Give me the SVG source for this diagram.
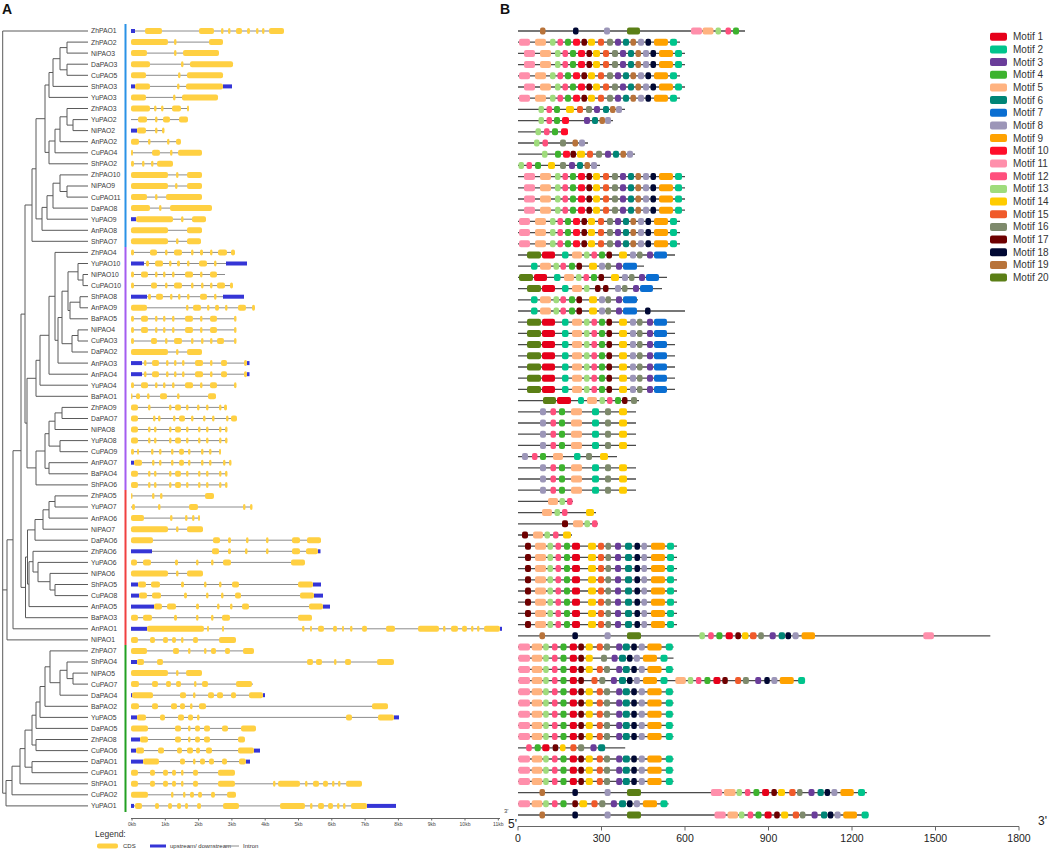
<svg xmlns="http://www.w3.org/2000/svg" xmlns:xlink="http://www.w3.org/1999/xlink" width="1052" height="851" viewBox="0 0 1052 851">
<style>
text{font-family:"Liberation Sans",Arial,sans-serif}
.lb{font-size:6.8px;fill:#3a3a3a}
.br{stroke:#5a5a5a;stroke-width:1;fill:none}
.gs rect{y:-3px;height:6px;rx:2px;fill:#ffd042}
.gs rect.u{y:-2px;height:4px;rx:0;fill:#3535d6}
.gs path{stroke:#8c8c8c;stroke-width:1;fill:none}
.mb rect{y:-3.5px;height:7px;rx:2px}
.mb path{stroke:#4a4a4a;stroke-width:1.3;fill:none}
.m1{fill:#e6001a}.m2{fill:#00c48c}.m3{fill:#6a3d9a}.m4{fill:#3db32e}.m5{fill:#ffb380}
.m6{fill:#008577}.m7{fill:#0a6ed1}.m8{fill:#9c96b8}.m9{fill:#ffa200}.m10{fill:#ff0d2a}
.m11{fill:#ff8fab}.m12{fill:#ff4f7d}.m13{fill:#9fdc7c}.m14{fill:#ffcc00}.m15{fill:#f05a2a}
.m16{fill:#7e8a6c}.m17{fill:#6e0000}.m18{fill:#000833}.m19{fill:#b8733a}.m20{fill:#5b7f16}
.ax{stroke:#666;stroke-width:1;fill:none}
.kb{font-size:5px;fill:#444;text-anchor:middle}
.bt{font-size:10.5px;fill:#222;text-anchor:middle}
.lg{font-size:10px;fill:#333}
</style>
<defs>
<g id="PB" class="mb">
<rect class="m11" x="519" width="11"/><rect class="m5" x="535" width="11"/><rect class="m13" x="550" width="5.5"/><rect class="m12" x="557.5" width="5.5"/><rect class="m4" x="565" width="6"/><rect class="m10" x="573" width="7"/><rect class="m17" x="581.5" width="5.5"/><rect class="m14" x="588" width="7"/><rect class="m15" x="598" width="6"/><rect class="m16" x="607" width="6"/><rect class="m3" x="615" width="6"/><rect class="m6" x="623" width="6"/><rect class="m19" x="630.5" width="5.5"/><rect class="m8" x="638" width="6"/><rect class="m18" x="645.5" width="5.5"/><rect class="m9" x="654" width="14"/><rect class="m2" x="670" width="7"/>
</g>
<g id="PP" class="mb">
<rect class="m20" x="527" width="14"/><rect class="m1" x="542" width="13"/><rect class="m2" x="562" width="6.5"/><rect class="m5" x="572" width="10"/><rect class="m13" x="584" width="5.5"/><rect class="m12" x="591.5" width="5.5"/><rect class="m4" x="599" width="6"/><rect class="m17" x="606.5" width="5.5"/><rect class="m14" x="619" width="8"/><rect class="m8" x="630" width="6"/><rect class="m16" x="637" width="5.5"/><rect class="m3" x="647" width="6"/><rect class="m7" x="654" width="13"/>
</g>
<g id="PS" class="mb">
<rect class="m2" x="531" width="6.5"/><rect class="m5" x="540" width="11"/><rect class="m13" x="553.5" width="5.5"/><rect class="m12" x="560.5" width="5.5"/><rect class="m4" x="569" width="6"/><rect class="m17" x="576.5" width="5.5"/><rect class="m14" x="589" width="8"/><rect class="m8" x="599" width="6"/><rect class="m16" x="605.5" width="5.5"/><rect class="m3" x="616" width="6"/><rect class="m7" x="623" width="14"/>
</g>
<g id="PL" class="mb">
<path d="M518 0H636"/><rect class="m8" x="540" width="6"/><rect class="m12" x="550.5" width="5.5"/><rect class="m4" x="559" width="6"/><rect class="m5" x="571" width="11"/><rect class="m2" x="592" width="7"/><rect class="m16" x="605" width="6"/><rect class="m14" x="619" width="8"/>
</g>
<g id="PR" class="mb">
<path d="M518 0H677"/><rect class="m17" x="525" width="6"/><rect class="m5" x="535" width="11"/><rect class="m13" x="547.5" width="5.5"/><rect class="m12" x="555.5" width="5.5"/><rect class="m4" x="564" width="6"/><rect class="m1" x="572" width="8"/><rect class="m14" x="588" width="8"/><rect class="m15" x="598" width="6"/><rect class="m16" x="605.5" width="5.5"/><rect class="m3" x="615" width="6"/><rect class="m6" x="625" width="7"/><rect class="m18" x="634.5" width="5.5"/><rect class="m8" x="641.5" width="5.5"/><rect class="m9" x="651" width="14"/><rect class="m2" x="667" width="7"/>
</g>
<g id="PG" class="mb">
<path d="M518 0H673.5"/><rect class="m11" x="518.3" width="11.7"/><rect class="m5" x="531.7" width="10.6"/><rect class="m13" x="543.2" width="5.5"/><rect class="m12" x="552" width="5.5"/><rect class="m4" x="560.5" width="6"/><rect class="m1" x="569.8" width="7.1"/><rect class="m17" x="578.4" width="5.5"/><rect class="m14" x="585.7" width="7.1"/><rect class="m15" x="596.8" width="6"/><rect class="m16" x="604" width="6"/><rect class="m3" x="616.2" width="6"/><rect class="m6" x="622.8" width="7"/><rect class="m18" x="631.3" width="5.5"/><rect class="m8" x="638.8" width="6"/><rect class="m9" x="647.4" width="14.2"/><rect class="m2" x="665.8" width="7"/>
</g>
</defs>
<rect width="1052" height="851" fill="#fff"/>
<text x="2" y="14" font-size="14" font-weight="bold" fill="#111">A</text>
<text x="500" y="14" font-size="14" font-weight="bold" fill="#111">B</text>

<g id="tree" class="br">
<path d="M88 31H2.7V793.2H6M7 589.9H2.7"/>
<path d="M88 42.1H67V53.1H88M88 64.2H67V75.3H88M67 47.6H60V69.8H67M60 58.7H53V86.4H88M53 72.5H49V97.4H88"/>
<path d="M88 119.6H73V130.6H88M88 108.5H67V125.1H73M67 116.8H60V141.7H88M60 129.2H55V152.8H88M55 141H49V163.8H88M49 85H45V152.4H49"/>
<path d="M88 186H67V197.1H88M88 174.9H60V191.5H67M60 183.2H53V208.1H88M53 195.7H47V219.2H88M47 207.4H42V230.3H88M45 118.7H36V218.9H42M36 168.8H32V241.3H88"/>
<path d="M88 274.5H83V285.6H88M88 263.5H78V280H83M88 296.7H80V307.8H88M80 302.2H70V318.8H88M78 271.8H68V310.5H70M88 329.9H78V341H88M78 335.5H72V352H88M68 291.2H62V343.7H72M62 317.5H58V363.1H88M88 252.4H55V340.3H58M55 296.3H49V374.2H88M49 335.3H40V385.2H88M40 360.3H36V396.3H88"/>
<path d="M88 407.4H62V418.5H88M62 412.9H55V429.5H88M88 440.6H60V451.7H88M55 421.2H49V446.1H60M88 462.7H49V473.8H88M49 433.7H45V468.3H49M45 451H36V484.9H88M36 378.3H27V467.9H36M32 205H25V423.1H27"/>
<path d="M88 495.9H55V507H88M55 501.5H49V518.1H88M49 509.8H43V529.2H88M43 519.5H35V540.2H88M88 584.5H55V595.6H88M88 573.4H50V590H55M88 562.4H38V581.7H50M88 551.3H33V572H38M33 561.7H29V606.6H88M35 529.9H27.5V584.1H29M27.5 557H25.5V617.7H88M25 314.1H21V587.4H25.5M21 450.7H13V628.8H88M13 539.8H7V639.9H88"/>
<path d="M88 673.1H73V684.1H88M88 662H67V678.6H73M67 670.3H60V695.2H88M88 650.9H50V682.7H60M50 666.8H45V706.3H88M45 686.5H40V717.4H88M40 702H36V728.4H88M88 739.5H36V750.6H88M36 715.2H32V745H36M88 761.6H32V772.7H88M32 730.1H25V767.2H32M25 748.6H20V783.8H88M20 766.2H12V794.8H88M12 780.5H6V805.9H88"/>
</g>

<g id="clades">
<rect x="124.5" y="24" width="2" height="223" fill="#2a92e6"/>
<rect x="124.5" y="247" width="2" height="243" fill="#a35df0"/>
<rect x="124.5" y="490" width="2" height="155" fill="#f04040"/>
<rect x="124.5" y="645" width="2" height="167" fill="#22a022"/>
</g>

<g id="genes">
<g id="ZhPAO1" class="gs" transform="translate(0,31)"><text class="lb" x="91" y="2.4">ZhPAO1</text><path d="M131 0H284"/><rect class="u" x="131" width="4"/><rect x="145" width="17"/><rect x="199" width="15"/><rect x="221" width="2.5"/><rect x="228" width="2.5"/><rect x="236" width="6"/><rect x="247" width="3"/><rect x="256" width="2.5"/><rect x="262" width="2.5"/><rect x="269" width="15"/></g>
<g id="ZhPAO2" class="gs" transform="translate(0,42.1)"><text class="lb" x="91" y="2.4">ZhPAO2</text><path d="M131 0H223"/><rect x="131" width="37"/><rect x="174" width="2.5"/><rect x="209" width="14"/></g>
<g id="NiPAO3" class="gs" transform="translate(0,53.1)"><text class="lb" x="91" y="2.4">NiPAO3</text><path d="M131 0H219"/><rect x="131" width="16"/><rect x="174" width="2.5"/><rect x="183" width="36"/></g>
<g id="DaPAO3" class="gs" transform="translate(0,64.2)"><text class="lb" x="91" y="2.4">DaPAO3</text><path d="M131 0H233"/><rect x="131" width="19"/><rect x="181" width="2.5"/><rect x="190" width="43"/></g>
<g id="CuPAO5" class="gs" transform="translate(0,75.3)"><text class="lb" x="91" y="2.4">CuPAO5</text><path d="M131 0H223"/><rect x="131" width="15"/><rect x="178" width="2.5"/><rect x="187" width="36"/></g>
<g id="ShPAO3" class="gs" transform="translate(0,86.4)"><text class="lb" x="91" y="2.4">ShPAO3</text><path d="M131 0H232"/><rect class="u" x="131" width="4"/><rect x="135" width="15"/><rect x="177" width="2.5"/><rect x="186" width="37"/><rect class="u" x="223" width="9"/></g>
<g id="YuPAO3" class="gs" transform="translate(0,97.4)"><text class="lb" x="91" y="2.4">YuPAO3</text><path d="M131 0H218"/><rect x="131" width="15"/><rect x="173" width="2.5"/><rect x="182" width="36"/></g>
<g id="ZhPAO3" class="gs" transform="translate(0,108.5)"><text class="lb" x="91" y="2.4">ZhPAO3</text><path d="M131 0H189"/><rect x="131" width="19"/><rect x="154" width="2.5"/><rect x="161" width="2.5"/><rect x="172" width="9"/><rect x="187" width="2"/></g>
<g id="YuPAO2" class="gs" transform="translate(0,119.6)"><text class="lb" x="91" y="2.4">YuPAO2</text><path d="M131 0H188"/><rect x="138" width="9"/><rect x="155" width="2.5"/><rect x="163" width="7"/><rect x="179" width="9"/></g>
<g id="NiPAO2" class="gs" transform="translate(0,130.6)"><text class="lb" x="91" y="2.4">NiPAO2</text><path d="M131 0H164"/><rect class="u" x="131" width="6"/><rect x="137" width="9"/><rect x="155" width="2.5"/><rect x="162" width="2.5"/></g>
<g id="AnPAO2" class="gs" transform="translate(0,141.7)"><text class="lb" x="91" y="2.4">AnPAO2</text><path d="M131 0H181"/><rect x="131" width="8"/><rect x="148" width="2.5"/><rect x="167" width="2.5"/><rect x="176" width="5"/></g>
<g id="CuPAO4" class="gs" transform="translate(0,152.8)"><text class="lb" x="91" y="2.4">CuPAO4</text><path d="M131 0H202"/><rect x="131" width="2"/><rect x="152" width="8"/><rect x="170" width="2.5"/><rect x="178" width="24"/></g>
<g id="ShPAO2" class="gs" transform="translate(0,163.8)"><text class="lb" x="91" y="2.4">ShPAO2</text><path d="M131 0H173"/><rect x="131" width="3"/><rect x="142" width="2.5"/><rect x="151" width="2.5"/><rect x="157" width="16"/></g>
<g id="ZhPAO10" class="gs" transform="translate(0,174.9)"><text class="lb" x="91" y="2.4">ZhPAO10</text><path d="M131 0H202"/><rect x="131" width="37"/><rect x="176" width="2.5"/><rect x="187" width="15"/></g>
<g id="NiPAO9" class="gs" transform="translate(0,186)"><text class="lb" x="91" y="2.4">NiPAO9</text><path d="M131 0H202"/><rect x="131" width="37"/><rect x="175" width="2.5"/><rect x="187" width="15"/></g>
<g id="CuPAO11" class="gs" transform="translate(0,197.1)"><text class="lb" x="91" y="2.4">CuPAO11</text><path d="M131 0H202"/><rect x="131" width="16"/><rect x="155" width="2.5"/><rect x="166" width="36"/></g>
<g id="DaPAO8" class="gs" transform="translate(0,208.1)"><text class="lb" x="91" y="2.4">DaPAO8</text><path d="M131 0H212"/><rect x="131" width="19"/><rect x="159" width="2.5"/><rect x="170" width="42"/></g>
<g id="YuPAO9" class="gs" transform="translate(0,219.2)"><text class="lb" x="91" y="2.4">YuPAO9</text><path d="M131 0H206"/><rect class="u" x="131" width="5"/><rect x="136" width="37"/><rect x="181" width="2.5"/><rect x="192" width="14"/></g>
<g id="AnPAO8" class="gs" transform="translate(0,230.3)"><text class="lb" x="91" y="2.4">AnPAO8</text><path d="M131 0H202"/><rect x="131" width="37"/><rect x="187" width="15"/></g>
<g id="ShPAO7" class="gs" transform="translate(0,241.3)"><text class="lb" x="91" y="2.4">ShPAO7</text><path d="M131 0H201"/><rect x="131" width="37"/><rect x="176" width="2.5"/><rect x="187" width="14"/></g>
<g id="ZhPAO4" class="gs" transform="translate(0,252.4)"><text class="lb" x="91" y="2.4">ZhPAO4</text><path d="M131 0H235"/><rect x="131" width="3"/><rect x="150" width="7"/><rect x="165" width="2.5"/><rect x="174" width="8"/><rect x="191" width="2.5"/><rect x="200" width="3"/><rect x="210" width="2.5"/><rect x="218" width="9"/><rect x="231" width="4"/></g>
<g id="YuPAO10" class="gs" transform="translate(0,263.5)"><text class="lb" x="91" y="2.4">YuPAO10</text><path d="M131 0H247"/><rect class="u" x="131" width="13"/><rect x="146" width="3"/><rect x="155" width="8"/><rect x="169" width="2.5"/><rect x="177" width="3"/><rect x="187" width="2.5"/><rect x="199" width="8"/><rect x="214" width="2.5"/><rect class="u" x="226" width="21"/></g>
<g id="NiPAO10" class="gs" transform="translate(0,274.5)"><text class="lb" x="91" y="2.4">NiPAO10</text><path d="M131 0H225"/><rect x="131" width="3"/><rect x="141" width="7"/><rect x="155" width="2.5"/><rect x="163" width="2.5"/><rect x="172" width="2.5"/><rect x="185" width="8"/><rect x="200" width="2.5"/><rect x="210" width="7"/></g>
<g id="CuPAO10" class="gs" transform="translate(0,285.6)"><text class="lb" x="91" y="2.4">CuPAO10</text><path d="M131 0H233"/><rect x="131" width="3"/><rect x="151" width="6"/><rect x="165" width="2.5"/><rect x="174" width="8"/><rect x="191" width="2.5"/><rect x="201" width="2.5"/><rect x="210" width="2.5"/><rect x="217" width="8"/><rect x="230" width="3"/></g>
<g id="ShPAO8" class="gs" transform="translate(0,296.7)"><text class="lb" x="91" y="2.4">ShPAO8</text><path d="M131 0H244"/><rect class="u" x="131" width="16"/><rect x="148" width="3"/><rect x="156" width="7"/><rect x="170" width="2.5"/><rect x="178" width="2.5"/><rect x="187" width="2.5"/><rect x="200" width="7"/><rect x="214" width="2.5"/><rect class="u" x="223" width="21"/></g>
<g id="AnPAO9" class="gs" transform="translate(0,307.8)"><text class="lb" x="91" y="2.4">AnPAO9</text><path d="M131 0H255"/><rect x="131" width="16"/><rect x="186" width="2.5"/><rect x="193" width="8"/><rect x="207" width="2.5"/><rect x="215" width="4"/><rect x="225" width="2.5"/><rect x="238" width="8"/><rect x="252" width="3"/></g>
<g id="BaPAO5" class="gs" transform="translate(0,318.8)"><text class="lb" x="91" y="2.4">BaPAO5</text><path d="M131 0H236"/><rect x="131" width="3"/><rect x="141" width="7"/><rect x="155" width="2.5"/><rect x="163" width="2.5"/><rect x="172" width="2.5"/><rect x="185" width="8"/><rect x="200" width="2.5"/><rect x="210" width="7"/><rect x="234" width="2.5"/></g>
<g id="NiPAO4" class="gs" transform="translate(0,329.9)"><text class="lb" x="91" y="2.4">NiPAO4</text><path d="M131 0H236"/><rect x="131" width="3"/><rect x="141" width="7"/><rect x="155" width="2.5"/><rect x="163" width="2.5"/><rect x="172" width="2.5"/><rect x="185" width="8"/><rect x="200" width="2.5"/><rect x="210" width="7"/><rect x="234" width="2.5"/></g>
<g id="CuPAO3" class="gs" transform="translate(0,341)"><text class="lb" x="91" y="2.4">CuPAO3</text><path d="M131 0H236"/><rect x="131" width="3"/><rect x="151" width="6"/><rect x="165" width="2.5"/><rect x="174" width="8"/><rect x="191" width="2.5"/><rect x="201" width="2.5"/><rect x="210" width="2.5"/><rect x="217" width="7"/><rect x="234" width="2.5"/></g>
<g id="DaPAO2" class="gs" transform="translate(0,352)"><text class="lb" x="91" y="2.4">DaPAO2</text><path d="M131 0H202"/><rect x="131" width="37"/><rect x="176" width="2.5"/><rect x="187" width="15"/></g>
<g id="AnPAO3" class="gs" transform="translate(0,363.1)"><text class="lb" x="91" y="2.4">AnPAO3</text><path d="M131 0H249"/><rect class="u" x="131" width="11"/><rect x="144" width="2.5"/><rect x="152" width="7"/><rect x="166" width="2.5"/><rect x="174" width="2.5"/><rect x="182" width="2.5"/><rect x="195" width="8"/><rect x="210" width="2.5"/><rect x="221" width="6"/><rect x="244" width="3"/><rect class="u" x="247" width="2.5"/></g>
<g id="AnPAO4" class="gs" transform="translate(0,374.2)"><text class="lb" x="91" y="2.4">AnPAO4</text><path d="M131 0H249"/><rect class="u" x="131" width="11"/><rect x="144" width="2.5"/><rect x="152" width="7"/><rect x="166" width="2.5"/><rect x="174" width="2.5"/><rect x="182" width="2.5"/><rect x="195" width="8"/><rect x="210" width="2.5"/><rect x="221" width="6"/><rect x="244" width="3"/><rect class="u" x="247" width="2.5"/></g>
<g id="YuPAO4" class="gs" transform="translate(0,385.2)"><text class="lb" x="91" y="2.4">YuPAO4</text><path d="M131 0H236"/><rect x="131" width="3"/><rect x="141" width="7"/><rect x="155" width="2.5"/><rect x="163" width="2.5"/><rect x="172" width="2.5"/><rect x="185" width="8"/><rect x="200" width="2.5"/><rect x="210" width="7"/><rect x="234" width="2.5"/></g>
<g id="BaPAO1" class="gs" transform="translate(0,396.3)"><text class="lb" x="91" y="2.4">BaPAO1</text><path d="M131 0H216"/><rect x="131" width="1.5"/><rect x="136" width="4"/><rect x="147" width="2.5"/><rect x="160" width="7"/><rect x="177" width="2.5"/><rect x="208" width="8"/></g>
<g id="ZhPAO9" class="gs" transform="translate(0,407.4)"><text class="lb" x="91" y="2.4">ZhPAO9</text><path d="M131 0H227"/><rect x="131" width="7"/><rect x="148" width="2.5"/><rect x="169" width="2.5"/><rect x="175" width="6"/><rect x="186" width="2.5"/><rect x="197" width="2.5"/><rect x="206" width="2.5"/><rect x="219" width="2.5"/><rect x="224" width="3"/></g>
<g id="DaPAO7" class="gs" transform="translate(0,418.5)"><text class="lb" x="91" y="2.4">DaPAO7</text><path d="M131 0H237"/><rect x="131" width="7"/><rect x="153" width="2.5"/><rect x="158" width="2.5"/><rect x="173" width="2.5"/><rect x="179" width="6"/><rect x="191" width="2.5"/><rect x="203" width="2.5"/><rect x="212" width="2.5"/><rect x="226" width="2.5"/><rect x="231" width="6"/></g>
<g id="NiPAO8" class="gs" transform="translate(0,429.5)"><text class="lb" x="91" y="2.4">NiPAO8</text><path d="M131 0H227"/><rect x="131" width="7"/><rect x="148" width="2.5"/><rect x="154" width="2.5"/><rect x="169" width="2.5"/><rect x="175" width="6"/><rect x="186" width="2.5"/><rect x="198" width="2.5"/><rect x="206" width="2.5"/><rect x="219" width="2.5"/><rect x="225" width="2.5"/></g>
<g id="YuPAO8" class="gs" transform="translate(0,440.6)"><text class="lb" x="91" y="2.4">YuPAO8</text><path d="M131 0H227"/><rect x="131" width="7"/><rect x="148" width="2.5"/><rect x="154" width="2.5"/><rect x="169" width="2.5"/><rect x="175" width="6"/><rect x="186" width="2.5"/><rect x="198" width="2.5"/><rect x="206" width="2.5"/><rect x="219" width="2.5"/><rect x="225" width="2.5"/></g>
<g id="CuPAO9" class="gs" transform="translate(0,451.7)"><text class="lb" x="91" y="2.4">CuPAO9</text><path d="M131 0H221"/><rect x="131" width="3"/><rect x="137" width="2"/><rect x="151" width="2.5"/><rect x="159" width="2.5"/><rect x="171" width="2.5"/><rect x="179" width="5"/><rect x="188" width="2.5"/><rect x="201" width="2.5"/><rect x="209" width="2.5"/><rect x="219" width="2"/></g>
<g id="AnPAO7" class="gs" transform="translate(0,462.7)"><text class="lb" x="91" y="2.4">AnPAO7</text><path d="M131 0H231"/><rect class="u" x="131" width="3"/><rect x="134" width="8"/><rect x="152" width="2.5"/><rect x="159" width="2.5"/><rect x="171" width="2.5"/><rect x="179" width="5"/><rect x="188" width="2.5"/><rect x="201" width="2.5"/><rect x="209" width="2.5"/><rect x="223" width="2.5"/><rect x="229" width="2.5"/></g>
<g id="BaPAO4" class="gs" transform="translate(0,473.8)"><text class="lb" x="91" y="2.4">BaPAO4</text><path d="M131 0H227"/><rect x="131" width="7"/><rect x="148" width="2.5"/><rect x="154" width="2.5"/><rect x="169" width="2.5"/><rect x="175" width="6"/><rect x="186" width="2.5"/><rect x="198" width="2.5"/><rect x="206" width="2.5"/><rect x="219" width="2.5"/><rect x="225" width="2.5"/></g>
<g id="ShPAO6" class="gs" transform="translate(0,484.9)"><text class="lb" x="91" y="2.4">ShPAO6</text><path d="M131 0H227"/><rect x="131" width="7"/><rect x="148" width="2.5"/><rect x="154" width="2.5"/><rect x="169" width="2.5"/><rect x="175" width="6"/><rect x="186" width="2.5"/><rect x="198" width="2.5"/><rect x="206" width="2.5"/><rect x="219" width="2.5"/><rect x="225" width="2.5"/></g>
<g id="ZhPAO5" class="gs" transform="translate(0,495.9)"><text class="lb" x="91" y="2.4">ZhPAO5</text><path d="M131 0H214"/><rect x="131" width="1.5"/><rect x="152" width="2.5"/><rect x="160" width="2.5"/><rect x="205" width="9"/></g>
<g id="YuPAO7" class="gs" transform="translate(0,507)"><text class="lb" x="91" y="2.4">YuPAO7</text><path d="M131 0H252"/><rect x="132" width="3"/><rect x="158" width="2.5"/><rect x="189" width="9"/><rect x="243" width="2.5"/><rect x="250" width="2.5"/></g>
<g id="AnPAO6" class="gs" transform="translate(0,518.1)"><text class="lb" x="91" y="2.4">AnPAO6</text><path d="M131 0H200"/><rect x="131" width="13"/><rect x="170" width="2.5"/><rect x="185" width="2.5"/><rect x="192" width="2.5"/><rect x="198" width="2"/></g>
<g id="NiPAO7" class="gs" transform="translate(0,529.2)"><text class="lb" x="91" y="2.4">NiPAO7</text><path d="M131 0H203"/><rect x="131" width="37"/><rect x="176" width="2.5"/><rect x="187" width="16"/></g>
<g id="DaPAO6" class="gs" transform="translate(0,540.2)"><text class="lb" x="91" y="2.4">DaPAO6</text><path d="M131 0H321"/><rect x="131" width="22"/><rect x="213" width="7"/><rect x="228" width="3"/><rect x="246" width="2.5"/><rect x="266" width="2.5"/><rect x="292" width="8"/><rect x="307" width="14"/></g>
<g id="ZhPAO6" class="gs" transform="translate(0,551.3)"><text class="lb" x="91" y="2.4">ZhPAO6</text><path d="M131 0H320"/><rect class="u" x="131" width="21"/><rect x="212" width="7"/><rect x="228" width="3"/><rect x="245" width="2.5"/><rect x="266" width="2.5"/><rect x="292" width="8"/><rect x="306" width="12"/><rect class="u" x="318" width="2.5"/></g>
<g id="YuPAO6" class="gs" transform="translate(0,562.4)"><text class="lb" x="91" y="2.4">YuPAO6</text><path d="M131 0H305"/><rect x="131" width="6"/><rect x="143" width="8"/><rect x="175" width="3"/><rect x="196" width="2.5"/><rect x="211" width="2.5"/><rect x="223" width="8"/><rect x="291" width="14"/></g>
<g id="NiPAO6" class="gs" transform="translate(0,573.4)"><text class="lb" x="91" y="2.4">NiPAO6</text><path d="M131 0H203"/><rect x="131" width="37"/><rect x="176" width="2.5"/><rect x="187" width="16"/></g>
<g id="ShPAO5" class="gs" transform="translate(0,584.5)"><text class="lb" x="91" y="2.4">ShPAO5</text><path d="M131 0H321"/><rect class="u" x="131" width="7"/><rect x="138" width="8"/><rect x="151" width="9"/><rect x="181" width="3"/><rect x="204" width="2.5"/><rect x="219" width="2.5"/><rect x="232" width="7"/><rect x="298" width="15"/><rect class="u" x="313" width="8"/></g>
<g id="CuPAO8" class="gs" transform="translate(0,595.6)"><text class="lb" x="91" y="2.4">CuPAO8</text><path d="M131 0H323"/><rect class="u" x="131" width="8"/><rect x="139" width="8"/><rect x="152" width="9"/><rect x="184" width="3"/><rect x="206" width="2.5"/><rect x="221" width="2.5"/><rect x="235" width="6"/><rect x="300" width="14"/><rect class="u" x="314" width="9"/></g>
<g id="AnPAO5" class="gs" transform="translate(0,606.6)"><text class="lb" x="91" y="2.4">AnPAO5</text><path d="M131 0H330"/><rect class="u" x="131" width="23"/><rect x="154" width="8"/><rect x="167" width="9"/><rect x="196" width="3"/><rect x="217" width="2.5"/><rect x="230" width="2.5"/><rect x="242" width="7"/><rect x="309" width="14"/><rect class="u" x="323" width="7"/></g>
<g id="BaPAO3" class="gs" transform="translate(0,617.7)"><text class="lb" x="91" y="2.4">BaPAO3</text><path d="M131 0H312"/><rect x="131" width="7"/><rect x="143" width="9"/><rect x="174" width="3"/><rect x="196" width="2.5"/><rect x="211" width="2.5"/><rect x="222" width="8"/><rect x="298" width="14"/></g>
<g id="AnPAO1" class="gs" transform="translate(0,628.8)"><text class="lb" x="91" y="2.4">AnPAO1</text><path d="M131 0H502"/><rect class="u" x="131" width="16"/><rect x="147" width="57"/><rect x="207" width="2"/><rect x="222" width="2"/><rect x="302" width="2.5"/><rect x="310" width="2"/><rect x="318" width="6"/><rect x="333" width="4"/><rect x="342" width="2"/><rect x="350" width="2.5"/><rect x="362" width="5"/><rect x="386" width="9"/><rect x="418" width="21"/><rect x="443" width="2.5"/><rect x="451" width="7"/><rect x="462" width="5"/><rect x="471" width="2.5"/><rect x="477" width="2.5"/><rect x="484" width="16"/><rect class="u" x="500" width="2"/></g>
<g id="NiPAO1" class="gs" transform="translate(0,639.9)"><text class="lb" x="91" y="2.4">NiPAO1</text><path d="M131 0H236"/><rect x="131" width="7"/><rect x="150" width="5"/><rect x="163" width="5"/><rect x="172" width="4"/><rect x="181" width="2.5"/><rect x="193" width="5"/><rect x="219" width="17"/></g>
<g id="ZhPAO7" class="gs" transform="translate(0,650.9)"><text class="lb" x="91" y="2.4">ZhPAO7</text><path d="M131 0H254"/><rect x="131" width="16"/><rect x="173" width="6"/><rect x="188" width="2.5"/><rect x="204" width="2.5"/><rect x="211" width="5"/><rect x="225" width="5"/><rect x="243" width="11"/></g>
<g id="ShPAO4" class="gs" transform="translate(0,662)"><text class="lb" x="91" y="2.4">ShPAO4</text><path d="M131 0H394"/><rect class="u" x="131" width="6"/><rect x="137" width="7"/><rect x="157" width="6"/><rect x="307" width="6"/><rect x="316" width="6"/><rect x="334" width="2.5"/><rect x="345" width="6"/><rect x="377" width="17"/></g>
<g id="NiPAO5" class="gs" transform="translate(0,673.1)"><text class="lb" x="91" y="2.4">NiPAO5</text><path d="M131 0H202"/><rect x="131" width="37"/><rect x="176" width="2.5"/><rect x="186" width="16"/></g>
<g id="CuPAO7" class="gs" transform="translate(0,684.1)"><text class="lb" x="91" y="2.4">CuPAO7</text><path d="M131 0H253"/><rect x="131" width="8"/><rect x="152" width="6"/><rect x="166" width="5"/><rect x="176" width="5"/><rect x="194" width="2.5"/><rect x="202" width="6"/><rect x="236" width="16"/></g>
<g id="DaPAO4" class="gs" transform="translate(0,695.2)"><text class="lb" x="91" y="2.4">DaPAO4</text><path d="M131 0H265"/><rect class="u" x="131" width="1.5"/><rect x="132" width="21"/><rect x="180" width="6"/><rect x="193" width="2.5"/><rect x="208" width="6"/><rect x="217" width="6"/><rect x="231" width="5"/><rect x="249" width="14"/><rect class="u" x="263" width="2"/></g>
<g id="BaPAO2" class="gs" transform="translate(0,706.3)"><text class="lb" x="91" y="2.4">BaPAO2</text><path d="M131 0H388"/><rect x="131" width="8"/><rect x="152" width="6"/><rect x="171" width="6"/><rect x="180" width="5"/><rect x="190" width="2.5"/><rect x="199" width="7"/><rect x="372" width="16"/></g>
<g id="YuPAO5" class="gs" transform="translate(0,717.4)"><text class="lb" x="91" y="2.4">YuPAO5</text><path d="M131 0H399"/><rect class="u" x="131" width="6"/><rect x="137" width="9"/><rect x="160" width="5"/><rect x="178" width="6"/><rect x="188" width="5"/><rect x="197" width="2.5"/><rect x="346" width="6"/><rect x="378" width="16"/><rect class="u" x="394" width="5"/></g>
<g id="DaPAO5" class="gs" transform="translate(0,728.4)"><text class="lb" x="91" y="2.4">DaPAO5</text><path d="M131 0H256"/><rect x="131" width="17"/><rect x="175" width="6"/><rect x="188" width="2.5"/><rect x="195" width="5"/><rect x="204" width="6"/><rect x="222" width="6"/><rect x="241" width="15"/></g>
<g id="ZhPAO8" class="gs" transform="translate(0,739.5)"><text class="lb" x="91" y="2.4">ZhPAO8</text><path d="M131 0H245"/><rect class="u" x="131" width="9"/><rect x="140" width="8"/><rect x="175" width="6"/><rect x="188" width="2.5"/><rect x="195" width="5"/><rect x="204" width="6"/><rect x="238" width="7"/></g>
<g id="CuPAO6" class="gs" transform="translate(0,750.6)"><text class="lb" x="91" y="2.4">CuPAO6</text><path d="M131 0H260"/><rect class="u" x="131" width="5"/><rect x="136" width="8"/><rect x="158" width="6"/><rect x="177" width="5"/><rect x="187" width="6"/><rect x="196" width="4"/><rect x="206" width="6"/><rect x="238" width="16"/><rect class="u" x="254" width="6"/></g>
<g id="DaPAO1" class="gs" transform="translate(0,761.6)"><text class="lb" x="91" y="2.4">DaPAO1</text><path d="M131 0H250"/><rect class="u" x="131" width="12"/><rect x="143" width="16"/><rect x="180" width="5"/><rect x="193" width="2.5"/><rect x="200" width="5"/><rect x="209" width="5"/><rect x="222" width="5"/><rect x="239" width="7"/><rect class="u" x="246" width="4"/></g>
<g id="CuPAO1" class="gs" transform="translate(0,772.7)"><text class="lb" x="91" y="2.4">CuPAO1</text><path d="M131 0H235"/><rect x="131" width="7"/><rect x="150" width="5"/><rect x="163" width="5"/><rect x="172" width="4"/><rect x="181" width="2.5"/><rect x="193" width="5"/><rect x="218" width="17"/></g>
<g id="ShPAO1" class="gs" transform="translate(0,783.8)"><text class="lb" x="91" y="2.4">ShPAO1</text><path d="M131 0H362"/><rect x="131" width="7"/><rect x="150" width="5"/><rect x="163" width="5"/><rect x="172" width="4"/><rect x="181" width="2.5"/><rect x="193" width="5"/><rect x="218" width="17"/><rect x="273" width="2.5"/><rect x="278" width="22"/><rect x="305" width="2.5"/><rect x="313" width="6"/><rect x="323" width="5"/><rect x="332" width="2.5"/><rect x="338" width="2.5"/><rect x="346" width="16"/></g>
<g id="CuPAO2" class="gs" transform="translate(0,794.8)"><text class="lb" x="91" y="2.4">CuPAO2</text><path d="M131 0H236"/><rect x="131" width="17"/><rect x="171" width="2.5"/><rect x="183" width="2.5"/><rect x="190" width="4"/><rect x="198" width="4"/><rect x="211" width="4"/><rect x="227" width="9"/></g>
<g id="YuPAO1" class="gs" transform="translate(0,805.9)"><text class="lb" x="91" y="2.4">YuPAO1</text><path d="M131 0H396"/><rect class="u" x="131" width="3"/><rect x="135" width="7"/><rect x="155" width="4"/><rect x="168" width="4"/><rect x="177" width="4"/><rect x="185" width="3"/><rect x="197" width="4"/><rect x="223" width="16"/><rect x="280" width="25"/><rect x="310" width="2.5"/><rect x="318" width="6"/><rect x="328" width="5"/><rect x="337" width="2.5"/><rect x="343" width="2.5"/><rect x="351" width="16"/><rect class="u" x="367" width="29"/></g>
</g>

<g id="geneaxis">
<path class="ax" d="M131 818.5H500M132 818.5v2M165.3 818.5v2M198.6 818.5v2M231.9 818.5v2M265.2 818.5v2M298.5 818.5v2M331.8 818.5v2M365.1 818.5v2M398.4 818.5v2M431.7 818.5v2M465 818.5v2M498.3 818.5v2"/>
<text class="kb" x="132" y="826">0kb</text><text class="kb" x="165.3" y="826">1kb</text><text class="kb" x="198.6" y="826">2kb</text><text class="kb" x="231.9" y="826">3kb</text><text class="kb" x="265.2" y="826">4kb</text><text class="kb" x="298.5" y="826">5kb</text><text class="kb" x="331.8" y="826">6kb</text><text class="kb" x="365.1" y="826">7kb</text><text class="kb" x="398.4" y="826">8kb</text><text class="kb" x="431.7" y="826">9kb</text><text class="kb" x="465" y="826">10kb</text><text class="kb" x="498.3" y="826">11kb</text>
<text x="504" y="813" font-size="6" fill="#444">3'</text>
</g>

<g id="genelegend">
<text x="95" y="837" font-size="8.5" fill="#333">Legend:</text>
<rect x="97" y="843.5" width="21" height="5" rx="2" fill="#ffd042"/>
<text x="123" y="848" font-size="6" fill="#333">CDS</text>
<rect x="150" y="844.5" width="16" height="3" fill="#3535d6"/>
<text x="170" y="848" font-size="6" fill="#333">upstream/ downstream</text>
<path d="M224 846H239" stroke="#8c8c8c" stroke-width="1"/>
<text x="243" y="848" font-size="6" fill="#333">Intron</text>
</g>

<g id="motifs">
<g id="mZhPAO1" class="mb" transform="translate(0,31)"><path d="M518 0H745"/><rect class="m19" x="540" width="5.5"/><rect class="m18" x="573" width="5.5"/><rect class="m8" x="604" width="6"/><rect class="m20" x="627" width="13"/><rect class="m11" x="691" width="11"/><rect class="m5" x="702.5" width="11"/><rect class="m13" x="715.5" width="5.5"/><rect class="m12" x="725.5" width="5.5"/><rect class="m4" x="733" width="6"/></g>
<g id="mZhPAO2" class="mb" transform="translate(0,42.2)"><path d="M518 0H680"/><use href="#PB"/></g>
<g id="mNiPAO3" class="mb" transform="translate(0,53.4)"><path d="M518 0H685"/><use href="#PB" x="5"/></g>
<g id="mDaPAO3" class="mb" transform="translate(0,64.6)"><path d="M518 0H685"/><use href="#PB" x="5"/></g>
<g id="mCuPAO5" class="mb" transform="translate(0,75.8)"><path d="M518 0H680"/><use href="#PB"/></g>
<g id="mShPAO3" class="mb" transform="translate(0,87)"><path d="M518 0H685"/><use href="#PB" x="5"/></g>
<g id="mYuPAO3" class="mb" transform="translate(0,98.2)"><path d="M518 0H680"/><use href="#PB"/></g>
<g id="mZhPAO3" class="mb" transform="translate(0,109.4)"><path d="M518 0H625"/><rect class="m13" x="538.5" width="5.5"/><rect class="m12" x="546.5" width="5.5"/><rect class="m4" x="554" width="6"/><rect class="m14" x="566" width="8"/><rect class="m15" x="577" width="6"/><rect class="m16" x="586" width="6"/><rect class="m3" x="594" width="6"/><rect class="m6" x="603" width="6"/><rect class="m19" x="610" width="5.5"/><rect class="m8" x="616" width="6"/></g>
<g id="mYuPAO2" class="mb" transform="translate(0,120.6)"><path d="M518 0H613"/><rect class="m13" x="538.5" width="5.5"/><rect class="m12" x="546.5" width="5.5"/><rect class="m4" x="554" width="6"/><rect class="m10" x="562" width="7"/><rect class="m3" x="584" width="6"/><rect class="m6" x="592" width="6"/><rect class="m19" x="599.5" width="5.5"/><rect class="m8" x="605" width="6"/></g>
<g id="mNiPAO2" class="mb" transform="translate(0,131.8)"><path d="M518 0H568"/><rect class="m13" x="535.5" width="5.5"/><rect class="m12" x="544" width="5.5"/><rect class="m4" x="552" width="6"/><rect class="m10" x="561" width="7"/></g>
<g id="mAnPAO2" class="mb" transform="translate(0,143)"><path d="M518 0H588"/><rect class="m13" x="534" width="5.5"/><rect class="m12" x="542.5" width="5.5"/><rect class="m16" x="560" width="6"/><rect class="m19" x="572.5" width="5.5"/><rect class="m8" x="579" width="6"/></g>
<g id="mCuPAO4" class="mb" transform="translate(0,154.2)"><path d="M518 0H635"/><rect class="m13" x="542" width="5.5"/><rect class="m4" x="555" width="6"/><rect class="m10" x="563" width="7"/><rect class="m17" x="570.5" width="5.5"/><rect class="m14" x="577" width="8"/><rect class="m15" x="587" width="6"/><rect class="m16" x="596" width="6"/><rect class="m3" x="605" width="6"/><rect class="m6" x="613" width="6"/><rect class="m19" x="620.5" width="5.5"/><rect class="m8" x="627" width="6"/></g>
<g id="mShPAO2" class="mb" transform="translate(0,165.4)"><path d="M518 0H600"/><rect class="m13" x="518.5" width="5.5"/><rect class="m12" x="526.5" width="5.5"/><rect class="m4" x="535" width="6"/><rect class="m14" x="548" width="7"/><rect class="m16" x="560" width="6"/><rect class="m3" x="569" width="6"/><rect class="m6" x="577" width="6"/><rect class="m19" x="584.5" width="5.5"/><rect class="m8" x="591" width="6"/></g>
<g id="mZhPAO10" class="mb" transform="translate(0,176.6)"><path d="M518 0H685"/><use href="#PB" x="5"/></g>
<g id="mNiPAO9" class="mb" transform="translate(0,187.8)"><path d="M518 0H685"/><use href="#PB" x="5"/></g>
<g id="mCuPAO11" class="mb" transform="translate(0,199)"><path d="M518 0H685"/><use href="#PB" x="5"/></g>
<g id="mDaPAO8" class="mb" transform="translate(0,210.2)"><path d="M518 0H685"/><use href="#PB" x="5"/></g>
<g id="mYuPAO9" class="mb" transform="translate(0,221.4)"><path d="M518 0H680"/><use href="#PB"/></g>
<g id="mAnPAO8" class="mb" transform="translate(0,232.6)"><path d="M518 0H680"/><use href="#PB"/></g>
<g id="mShPAO7" class="mb" transform="translate(0,243.8)"><path d="M518 0H680"/><use href="#PB"/></g>
<g id="mZhPAO4" class="mb" transform="translate(0,255)"><path d="M518 0H675"/><use href="#PP"/></g>
<g id="mYuPAO10" class="mb" transform="translate(0,266.2)"><path d="M518 0H644"/><use href="#PS"/></g>
<g id="mNiPAO10" class="mb" transform="translate(0,277.4)"><path d="M518 0H667"/><use href="#PP" x="-8"/></g>
<g id="mCuPAO10" class="mb" transform="translate(0,288.6)"><path d="M518 0H662"/><rect class="m20" x="527" width="14"/><rect class="m1" x="542" width="13"/><rect class="m2" x="562" width="6.5"/><rect class="m5" x="572" width="10"/><rect class="m13" x="584" width="5.5"/><rect class="m17" x="595" width="5.5"/><rect class="m17" x="603" width="5.5"/><rect class="m8" x="615" width="6"/><rect class="m16" x="622" width="5.5"/><rect class="m3" x="633" width="6"/><rect class="m7" x="640" width="13"/></g>
<g id="mShPAO8" class="mb" transform="translate(0,299.8)"><path d="M518 0H638"/><use href="#PS"/></g>
<g id="mAnPAO9" class="mb" transform="translate(0,311)"><path d="M518 0H685"/><use href="#PS"/><rect class="m18" x="645" width="5.5"/></g>
<g id="mBaPAO5" class="mb" transform="translate(0,322.2)"><path d="M518 0H675"/><use href="#PP"/></g>
<g id="mNiPAO4" class="mb" transform="translate(0,333.4)"><path d="M518 0H675"/><use href="#PP"/></g>
<g id="mCuPAO3" class="mb" transform="translate(0,344.6)"><path d="M518 0H675"/><use href="#PP"/></g>
<g id="mDaPAO2" class="mb" transform="translate(0,355.8)"><path d="M518 0H675"/><use href="#PP"/></g>
<g id="mAnPAO3" class="mb" transform="translate(0,367)"><path d="M518 0H675"/><use href="#PP"/></g>
<g id="mAnPAO4" class="mb" transform="translate(0,378.2)"><path d="M518 0H675"/><use href="#PP"/></g>
<g id="mYuPAO4" class="mb" transform="translate(0,389.4)"><path d="M518 0H675"/><use href="#PP"/></g>
<g id="mBaPAO1" class="mb" transform="translate(0,400.6)"><path d="M518 0H639"/><rect class="m20" x="543" width="13"/><rect class="m1" x="557" width="14"/><rect class="m2" x="578" width="6"/><rect class="m5" x="587" width="10"/><rect class="m13" x="599.5" width="5.5"/><rect class="m12" x="607" width="5.5"/><rect class="m4" x="615" width="6"/><rect class="m17" x="622" width="5.5"/><rect class="m16" x="631" width="6"/></g>
<g id="mZhPAO9" transform="translate(0,411.8)"><use href="#PL"/></g>
<g id="mDaPAO7" transform="translate(0,423)"><use href="#PL"/></g>
<g id="mNiPAO8" transform="translate(0,434.2)"><use href="#PL"/></g>
<g id="mYuPAO8" transform="translate(0,445.4)"><use href="#PL"/></g>
<g id="mCuPAO9" class="mb" transform="translate(0,456.6)"><path d="M518 0H617"/><rect class="m8" x="522" width="6"/><rect class="m12" x="532" width="5.5"/><rect class="m4" x="540" width="6"/><rect class="m5" x="553" width="10"/><rect class="m2" x="574" width="6.5"/><rect class="m16" x="586" width="6"/><rect class="m14" x="600" width="8"/></g>
<g id="mAnPAO7" transform="translate(0,467.8)"><use href="#PL"/></g>
<g id="mBaPAO4" transform="translate(0,479)"><use href="#PL"/></g>
<g id="mShPAO6" transform="translate(0,490.2)"><use href="#PL"/></g>
<g id="mZhPAO5" class="mb" transform="translate(0,501.4)"><path d="M518 0H573"/><rect class="m5" x="548" width="10"/><rect class="m13" x="559.5" width="5.5"/><rect class="m12" x="567" width="5.5"/></g>
<g id="mYuPAO7" class="mb" transform="translate(0,512.6)"><path d="M518 0H596"/><rect class="m5" x="542" width="10"/><rect class="m13" x="554.5" width="5.5"/><rect class="m12" x="562" width="5.5"/><rect class="m14" x="586" width="8"/></g>
<g id="mAnPAO6" class="mb" transform="translate(0,523.8)"><path d="M518 0H598"/><rect class="m17" x="562" width="6"/><rect class="m5" x="573" width="10"/><rect class="m13" x="584.5" width="5.5"/><rect class="m12" x="592" width="5.5"/></g>
<g id="mNiPAO7" class="mb" transform="translate(0,535)"><path d="M518 0H572"/><rect class="m17" x="522" width="6"/><rect class="m5" x="533" width="10"/><rect class="m13" x="544.5" width="5.5"/><rect class="m12" x="553" width="5.5"/><rect class="m14" x="563" width="8"/></g>
<g id="mDaPAO6" transform="translate(0,546.2)"><use href="#PR"/></g>
<g id="mZhPAO6" transform="translate(0,557.4)"><use href="#PR"/></g>
<g id="mYuPAO6" transform="translate(0,568.6)"><use href="#PR"/></g>
<g id="mNiPAO6" transform="translate(0,579.8)"><use href="#PR"/></g>
<g id="mShPAO5" transform="translate(0,591)"><use href="#PR"/></g>
<g id="mCuPAO8" transform="translate(0,602.2)"><use href="#PR"/></g>
<g id="mAnPAO5" transform="translate(0,613.4)"><use href="#PR"/></g>
<g id="mBaPAO3" transform="translate(0,624.6)"><use href="#PR"/></g>
<g id="mAnPAO1" class="mb" transform="translate(0,635.8)"><path d="M518 0H990.3"/><rect class="m19" x="539.5" width="5.5"/><rect class="m18" x="572.4" width="5.5"/><rect class="m8" x="604.6" width="6"/><rect class="m20" x="627" width="14"/><rect class="m13" x="699.4" width="5.5"/><rect class="m12" x="708.2" width="5.5"/><rect class="m4" x="716.4" width="6"/><rect class="m1" x="725.7" width="7.1"/><rect class="m17" x="735.4" width="5.5"/><rect class="m14" x="742" width="6.5"/><rect class="m15" x="750" width="6.5"/><rect class="m16" x="758.3" width="5.5"/><rect class="m3" x="769.7" width="6"/><rect class="m6" x="778.7" width="6.3"/><rect class="m18" x="785.5" width="5.5"/><rect class="m8" x="792.6" width="6"/><rect class="m9" x="801.6" width="13.4"/><rect class="m11" x="923.3" width="10.6"/></g>
<g id="mNiPAO1" transform="translate(0,647)"><use href="#PG"/></g>
<g id="mZhPAO7" class="mb" transform="translate(0,658.2)"><path d="M518 0H673.5"/><rect class="m11" x="518.3" width="11.7"/><rect class="m5" x="531.7" width="10.6"/><rect class="m13" x="543.2" width="5.5"/><rect class="m12" x="552" width="5.5"/><rect class="m4" x="560.5" width="6"/><rect class="m1" x="569.8" width="7.1"/><rect class="m17" x="578.4" width="5.5"/><rect class="m14" x="585.7" width="7.1"/><rect class="m16" x="601" width="6"/><rect class="m3" x="611.6" width="6"/><rect class="m6" x="619" width="7"/><rect class="m18" x="627" width="5.5"/><rect class="m8" x="633.9" width="6"/><rect class="m9" x="642.9" width="14.1"/><rect class="m2" x="660.5" width="7"/></g>
<g id="mShPAO4" transform="translate(0,669.4)"><use href="#PG"/></g>
<g id="mNiPAO5" class="mb" transform="translate(0,680.6)"><path d="M518 0H805"/><rect class="m11" x="518.3" width="11.7"/><rect class="m5" x="531.7" width="10.6"/><rect class="m13" x="543.2" width="5.5"/><rect class="m12" x="552" width="5.5"/><rect class="m4" x="560.5" width="6"/><rect class="m1" x="569.8" width="7.1"/><rect class="m17" x="578.4" width="5.5"/><rect class="m15" x="591.5" width="6"/><rect class="m16" x="599.3" width="6"/><rect class="m3" x="610.9" width="6"/><rect class="m6" x="619" width="7"/><rect class="m18" x="627" width="5.5"/><rect class="m8" x="633.9" width="6"/><rect class="m9" x="642.9" width="14.1"/><rect class="m2" x="660.5" width="7"/><rect class="m5" x="675.3" width="10.6"/><rect class="m13" x="687.8" width="5.5"/><rect class="m12" x="695.9" width="5.5"/><rect class="m4" x="704.4" width="6"/><rect class="m1" x="713.4" width="7.1"/><rect class="m17" x="722.3" width="5.5"/><rect class="m15" x="735.1" width="6"/><rect class="m16" x="742.9" width="6"/><rect class="m3" x="755.2" width="6"/><rect class="m18" x="764.3" width="5.5"/><rect class="m8" x="771.4" width="6"/><rect class="m9" x="779.7" width="14.1"/><rect class="m2" x="798.1" width="7"/></g>
<g id="mCuPAO7" transform="translate(0,691.8)"><use href="#PG"/></g>
<g id="mDaPAO4" transform="translate(0,703)"><use href="#PG"/></g>
<g id="mBaPAO2" transform="translate(0,714.2)"><use href="#PG"/></g>
<g id="mYuPAO5" transform="translate(0,725.4)"><use href="#PG"/></g>
<g id="mDaPAO5" transform="translate(0,736.6)"><use href="#PG"/></g>
<g id="mZhPAO8" class="mb" transform="translate(0,747.8)"><path d="M518 0H625.2"/><rect class="m12" x="526.2" width="5.5"/><rect class="m4" x="534.7" width="6"/><rect class="m1" x="542.3" width="7.1"/><rect class="m17" x="552.7" width="5.5"/><rect class="m14" x="560" width="5.5"/><rect class="m15" x="570.4" width="6"/><rect class="m16" x="578.1" width="6"/><rect class="m3" x="590.5" width="6"/><rect class="m6" x="598.1" width="7"/></g>
<g id="mCuPAO6" transform="translate(0,759)"><use href="#PG"/></g>
<g id="mDaPAO1" transform="translate(0,770.2)"><use href="#PG"/></g>
<g id="mCuPAO1" transform="translate(0,781.4)"><use href="#PG"/></g>
<g id="mShPAO1" class="mb" transform="translate(0,792.6)"><path d="M518 0H866.8"/><rect class="m19" x="539.5" width="5.5"/><rect class="m18" x="572.4" width="5.5"/><rect class="m8" x="604.6" width="6"/><rect class="m20" x="627" width="14"/><rect class="m11" x="710.9" width="11.3"/><rect class="m5" x="724" width="11.6"/><rect class="m13" x="736.5" width="5.5"/><rect class="m12" x="744.9" width="5.5"/><rect class="m4" x="753.4" width="6"/><rect class="m1" x="762.1" width="7"/><rect class="m17" x="771.4" width="5.5"/><rect class="m14" x="778" width="7"/><rect class="m15" x="789.2" width="6.4"/><rect class="m16" x="797" width="5.5"/><rect class="m3" x="808.5" width="6"/><rect class="m6" x="817.5" width="6.3"/><rect class="m18" x="824.6" width="5.5"/><rect class="m8" x="831.4" width="6"/><rect class="m9" x="840.4" width="13.4"/><rect class="m2" x="858" width="7"/></g>
<g id="mCuPAO2" class="mb" transform="translate(0,803.8)"><path d="M518 0H668.6"/><rect class="m11" x="518.3" width="11.7"/><rect class="m5" x="531.7" width="10.6"/><rect class="m13" x="543.2" width="5.5"/><rect class="m12" x="552" width="5.5"/><rect class="m4" x="560.5" width="6"/><rect class="m17" x="572.4" width="5.5"/><rect class="m14" x="579.4" width="7.7"/><rect class="m15" x="591.5" width="6"/><rect class="m16" x="599.3" width="6"/><rect class="m3" x="610.9" width="6"/><rect class="m6" x="619" width="7"/><rect class="m18" x="627" width="5.5"/><rect class="m8" x="633.9" width="6"/><rect class="m9" x="642.9" width="14.1"/><rect class="m2" x="660.5" width="7"/></g>
<g id="mYuPAO1" class="mb" transform="translate(0,815)"><path d="M518 0H868.6"/><rect class="m19" x="539.5" width="5.5"/><rect class="m18" x="572.4" width="5.5"/><rect class="m8" x="604.6" width="6"/><rect class="m20" x="627" width="14"/><rect class="m11" x="714.5" width="11.2"/><rect class="m5" x="727.5" width="10.6"/><rect class="m13" x="738.9" width="5.5"/><rect class="m12" x="747.7" width="5.5"/><rect class="m4" x="755.5" width="6"/><rect class="m1" x="764.6" width="7"/><rect class="m17" x="774.2" width="5.5"/><rect class="m14" x="781.1" width="7.1"/><rect class="m15" x="792.8" width="6.3"/><rect class="m16" x="799.9" width="5.5"/><rect class="m3" x="811.6" width="6"/><rect class="m6" x="821" width="6.3"/><rect class="m18" x="827.8" width="5.5"/><rect class="m8" x="834.6" width="6"/><rect class="m9" x="843.2" width="13.8"/><rect class="m2" x="861.6" width="7"/></g>
</g>

<g id="motifaxis">
<path class="ax" stroke-width="1.3" d="M518 826.5H1019M518 826.5v4M601.5 826.5v4M685 826.5v4M768.5 826.5v4M852 826.5v4M935.5 826.5v4M1019 826.5v4"/>
<text class="bt" x="518" y="842">0</text><text class="bt" x="601.5" y="842">300</text><text class="bt" x="685" y="842">600</text><text class="bt" x="768.5" y="842">900</text><text class="bt" x="852" y="842">1200</text><text class="bt" x="935.5" y="842">1500</text><text class="bt" x="1019" y="842">1800</text>
<text x="508" y="828" font-size="12" fill="#222">5'</text>
<text x="1038" y="825" font-size="12" fill="#222">3'</text>
</g>

<g id="motiflegend">
<rect class="m1" x="990" y="32.7" width="17" height="8" rx="2"/><text class="lg" x="1013" y="40.2">Motif 1</text>
<rect class="m2" x="990" y="45.4" width="17" height="8" rx="2"/><text class="lg" x="1013" y="52.9">Motif 2</text>
<rect class="m3" x="990" y="58.1" width="17" height="8" rx="2"/><text class="lg" x="1013" y="65.6">Motif 3</text>
<rect class="m4" x="990" y="70.7" width="17" height="8" rx="2"/><text class="lg" x="1013" y="78.2">Motif 4</text>
<rect class="m5" x="990" y="83.4" width="17" height="8" rx="2"/><text class="lg" x="1013" y="90.9">Motif 5</text>
<rect class="m6" x="990" y="96.1" width="17" height="8" rx="2"/><text class="lg" x="1013" y="103.6">Motif 6</text>
<rect class="m7" x="990" y="108.8" width="17" height="8" rx="2"/><text class="lg" x="1013" y="116.3">Motif 7</text>
<rect class="m8" x="990" y="121.5" width="17" height="8" rx="2"/><text class="lg" x="1013" y="129">Motif 8</text>
<rect class="m9" x="990" y="134.1" width="17" height="8" rx="2"/><text class="lg" x="1013" y="141.6">Motif 9</text>
<rect class="m10" x="990" y="146.8" width="17" height="8" rx="2"/><text class="lg" x="1013" y="154.3">Motif 10</text>
<rect class="m11" x="990" y="159.5" width="17" height="8" rx="2"/><text class="lg" x="1013" y="167">Motif 11</text>
<rect class="m12" x="990" y="172.2" width="17" height="8" rx="2"/><text class="lg" x="1013" y="179.7">Motif 12</text>
<rect class="m13" x="990" y="184.9" width="17" height="8" rx="2"/><text class="lg" x="1013" y="192.4">Motif 13</text>
<rect class="m14" x="990" y="197.5" width="17" height="8" rx="2"/><text class="lg" x="1013" y="205">Motif 14</text>
<rect class="m15" x="990" y="210.2" width="17" height="8" rx="2"/><text class="lg" x="1013" y="217.7">Motif 15</text>
<rect class="m16" x="990" y="222.9" width="17" height="8" rx="2"/><text class="lg" x="1013" y="230.4">Motif 16</text>
<rect class="m17" x="990" y="235.6" width="17" height="8" rx="2"/><text class="lg" x="1013" y="243.1">Motif 17</text>
<rect class="m18" x="990" y="248.3" width="17" height="8" rx="2"/><text class="lg" x="1013" y="255.8">Motif 18</text>
<rect class="m19" x="990" y="260.9" width="17" height="8" rx="2"/><text class="lg" x="1013" y="268.4">Motif 19</text>
<rect class="m20" x="990" y="273.6" width="17" height="8" rx="2"/><text class="lg" x="1013" y="281.1">Motif 20</text>
</g>
</svg>
